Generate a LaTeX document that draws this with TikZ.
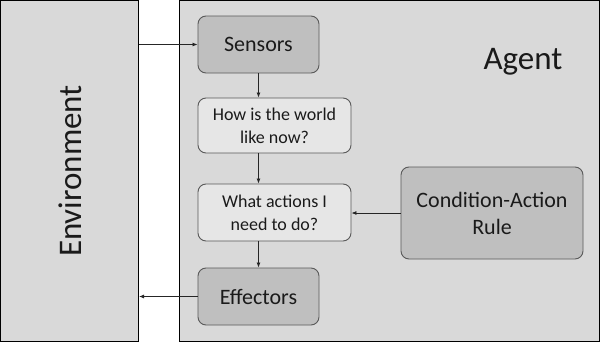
\documentclass[tikz,border=0pt]{standalone}
\usepackage{fontspec}
\setmainfont{Carlito}
\usetikzlibrary{arrows.meta}
\definecolor{bggray}{HTML}{D9D9D9}
\definecolor{darkbox}{HTML}{BFBFBF}
\definecolor{lightbox}{HTML}{E6E6E6}
\definecolor{edgegray}{HTML}{595959}
\definecolor{txt}{HTML}{1A1A1A}
\tikzset{
  outerbox/.style={draw=black, fill=bggray, line width=1pt, inner sep=0pt},
  darkstep/.style={draw=edgegray, fill=darkbox, rounded corners=8pt, line width=0.9pt,
    inner sep=0pt, align=center, text=txt, font=\fontsize{22}{27}\selectfont},
  lightstep/.style={draw=edgegray, fill=lightbox, rounded corners=8pt, line width=0.9pt,
    inner sep=0pt, align=center, text=txt, font=\fontsize{18}{23}\selectfont},
  conn/.style={draw=black!85, line width=0.8pt, -{Latex[length=5pt,width=4pt]}}
}
\begin{document}
\begin{tikzpicture}[x=1pt,y=-1pt]
\useasboundingbox (0,0) rectangle (600,343);
% outer boxes
\node[outerbox, minimum width=138pt, minimum height=341pt] (env) at (69.5,171) {};
\node[outerbox, minimum width=420pt, minimum height=341pt] (agent) at (389.5,171) {};
\node[rotate=90, text=txt, font=\fontsize{33}{38}\selectfont] (envlabel) at (70,171) {Environment};
\node[text=txt, font=\fontsize{33}{38}\selectfont] (agentlabel) at (523,62) {Agent};
% inner boxes
\node[darkstep, minimum width=121pt, minimum height=57pt] (sensors) at (258.5,44.5) {Sensors};
\node[lightstep, minimum width=153pt, minimum height=55pt] (world) at (274.5,125.5) {How is the world\\like now?};
\node[lightstep, minimum width=153pt, minimum height=57pt] (actions) at (274.5,212.5) {What actions I\\need to do?};
\node[darkstep, minimum width=121pt, minimum height=57pt] (effectors) at (258.5,296.5) {Effectors};
\node[darkstep, minimum width=182pt, minimum height=92pt] (rule) at (492,213) {Condition-Action\\Rule};
% connectors
\draw[conn] (sensors.west -| env.east) -- (sensors.west);
\draw[conn] (sensors.south) -- (sensors.south |- world.north);
\draw[conn] (sensors.south |- world.south) -- (sensors.south |- actions.north);
\draw[conn] (sensors.south |- actions.south) -- (effectors.north);
\draw[conn] (rule.west) -- (rule.west -| actions.east);
\draw[conn] (effectors.west) -- (effectors.west -| env.east);
\end{tikzpicture}
\end{document}
